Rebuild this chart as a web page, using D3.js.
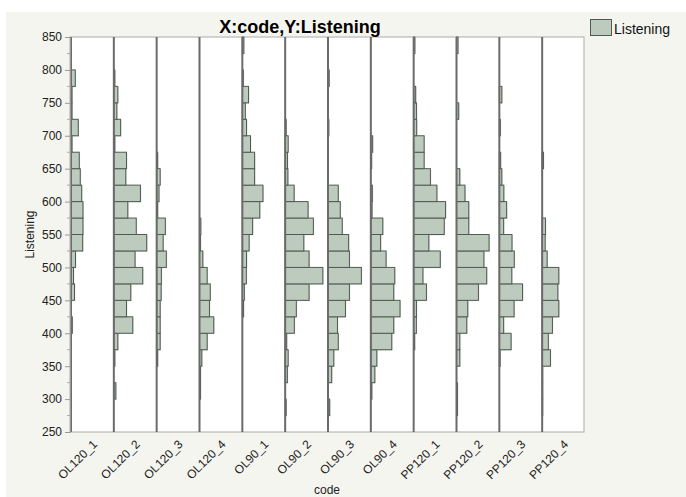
<!DOCTYPE html>
<html>
<head>
<meta charset="utf-8">
<script src="https://cdn.jsdelivr.net/npm/d3@7"></script>
<style>
  html, body { margin: 0; padding: 0; background: #ffffff; }
  svg { display: block; font-family: "Liberation Sans", Arial, Helvetica, sans-serif; }
</style>
</head>
<body>
<svg id="chart" width="686" height="497"></svg>
<script>
// Histogram bins of Listening scores (lower bound of each 25-point bin)
const bins = [250, 275, 300, 325, 350, 375, 400, 425, 450, 475, 500, 525,
              550, 575, 600, 625, 650, 675, 700, 725, 750, 775, 800, 825];
const binWidth = 25;

const codes = ["OL120_1", "OL120_2", "OL120_3", "OL120_4", "OL90_1", "OL90_2",
               "OL90_3", "OL90_4", "PP120_1", "PP120_2", "PP120_3", "PP120_4"];

// Relative frequency per bin for each code, in the same order as bins
const OL120_1 = [0, 0, 0, 0, 0, 0, 1.3, 0, 3.5, 2.5, 4.5, 11.7, 12, 12, 10.7, 9.3, 8.3, 1, 7.3, 1, 1, 4.3, 0, 0];
const OL120_2 = [0, 0, 2, 0, 1, 4, 19, 12.7, 17, 29, 21.3, 33, 22.5, 14, 26.7, 12, 12.7, 1, 6.8, 3, 4, 1, 0, 0];
const OL120_3 = [0, 0, 0, 0, 1, 3.5, 3.5, 3.5, 4.5, 4.7, 9.7, 6.5, 8.7, 1, 2.3, 3.5, 1, 0, 0, 0, 0, 0, 0, 0];
const OL120_4 = [0, 0, 1, 1, 2.3, 7.7, 14.3, 10, 10.8, 7.7, 3.3, 1, 1.3, 0, 0, 0, 0, 0, 0, 0, 0, 0, 0, 0];
const OL90_1  = [0, 0, 0, 0, 0, 0, 0, 1.2, 2, 4, 4.2, 6.8, 10.3, 17.5, 20.7, 12.3, 12.3, 8.2, 4.2, 3, 6.2, 1, 0, 1.5];
const OL90_2  = [0, 1, 0, 2.2, 3, 1.5, 9.2, 11.2, 24, 37.8, 24, 18.7, 28.3, 23, 9, 2.7, 2.3, 3, 1, 0, 0, 0, 0, 0];
const OL90_3  = [0, 1.7, 0, 3.7, 5.8, 10.3, 9.5, 17.5, 21.5, 33.5, 21.5, 20.7, 14.3, 12.3, 10.3, 0, 0, 0, 0.8, 0, 0, 1.2, 0, 0];
const OL90_4  = [0, 0, 1, 4, 6, 21, 23, 29.3, 23, 24, 15.3, 9.8, 12, 1.2, 1.5, 0, 0.8, 1.8, 0, 0, 0, 0, 0, 0];
const PP120_1 = [0, 0, 0, 0, 0, 1, 2.7, 2.8, 12.8, 9.3, 26.7, 15.2, 30.7, 32, 23.3, 16.8, 10.5, 10.5, 3, 2.8, 2, 0, 0, 1.2];
const PP120_2 = [0, 1, 1, 0, 3.3, 3.3, 10.3, 11.3, 22, 30.3, 27.5, 32.7, 12.3, 12.3, 8.5, 3.3, 0, 0, 0, 2.2, 0, 0, 0, 1.5];
const PP120_3 = [0, 0, 0, 0, 0.8, 11.8, 4.3, 14.8, 23.3, 12.5, 15, 12.7, 4.3, 7.3, 4.5, 2.5, 1.3, 0, 1, 0, 2.5, 0, 0, 0];
const PP120_4 = [0, 0.5, 0.5, 0.5, 8.3, 6.2, 10.3, 16.7, 15.7, 16.7, 5, 3, 3.3, 0, 0, 0, 1.3, 0, 0, 0, 0, 0, 0, 0];

const seriesByCode = { OL120_1, OL120_2, OL120_3, OL120_4, OL90_1, OL90_2,
                       OL90_3, OL90_4, PP120_1, PP120_2, PP120_3, PP120_4 };

const yTicks = [250, 300, 350, 400, 450, 500, 550, 600, 650, 700, 750, 800, 850];
const yMinorTicks = [275, 325, 375, 425, 475, 525, 575, 625, 675, 725, 775, 825];

const titleText = "X:code,Y:Listening";
const xTitle = "code";
const yTitle = "Listening";
const legendLabel = "Listening";

// ---------- layout ----------
const W = 686, H = 497;
const plot = { left: 70, right: 584, top: 37, bottom: 432 };
const barFill = "#bccbbd";
const barStroke = "#4f5b50";

const svg = d3.select("#chart");

// outer panel
svg.append("rect").attr("x", 6).attr("y", 12).attr("width", W - 6).attr("height", H - 12)
  .attr("fill", "#f5f5f0");

// plot background
svg.append("rect")
  .attr("x", plot.left).attr("y", plot.top)
  .attr("width", plot.right - plot.left).attr("height", plot.bottom - plot.top)
  .attr("fill", "#ffffff").attr("stroke", "#b8b8b8").attr("stroke-width", 1.2);

const y = d3.scaleLinear().domain([250, 850]).range([plot.bottom, plot.top]);
const x = d3.scaleBand().domain(codes).range([plot.left, plot.right]).padding(0);
const len = d3.scaleLinear().domain([0, 43]).range([0, x.bandwidth()]);

// histogram bars per code
const groups = svg.append("g").selectAll("g.code")
  .data(codes).join("g").attr("class", "code")
  .attr("transform", d => `translate(${x(d) + 1},0)`);

groups.each(function (code) {
  const g = d3.select(this);
  const rows = bins.map((b, i) => ({ lo: b, v: seriesByCode[code][i] })).filter(r => r.v > 0);
  // soft shadow to the right of each bar
  g.selectAll("rect.shadow").data(rows).join("rect").attr("class", "shadow")
    .attr("x", 0.8)
    .attr("y", r => y(r.lo + binWidth) + 0.8)
    .attr("width", r => len(r.v))
    .attr("height", r => y(r.lo) - y(r.lo + binWidth))
    .attr("fill", "#cfd2cf");
  g.selectAll("rect.bar").data(rows).join("rect").attr("class", "bar")
    .attr("x", 0)
    .attr("y", r => y(r.lo + binWidth))
    .attr("width", r => len(r.v))
    .attr("height", r => y(r.lo) - y(r.lo + binWidth))
    .attr("fill", barFill)
    .attr("stroke", barStroke).attr("stroke-width", 1);
  // category baseline
  g.append("line")
    .attr("x1", 0).attr("x2", 0)
    .attr("y1", plot.top).attr("y2", plot.bottom)
    .attr("stroke", "#6b6b6b").attr("stroke-width", 2);
});

// y axis
const yAxis = d3.axisLeft(y).tickValues(yTicks).tickSize(5).tickPadding(3);
const yg = svg.append("g").attr("transform", `translate(${plot.left},0)`).call(yAxis);
yg.select(".domain").attr("stroke", "#999999");
yg.selectAll(".tick line").attr("stroke", "#999999");
yg.selectAll(".tick text").attr("font-size", 12).attr("fill", "#222222")
  .attr("font-family", "Liberation Sans, Arial, sans-serif");
svg.append("g").selectAll("line").data(yMinorTicks).join("line")
  .attr("x1", plot.left - 3).attr("x2", plot.left)
  .attr("y1", d => y(d)).attr("y2", d => y(d))
  .attr("stroke", "#aaaaaa");

// x labels
svg.append("g").selectAll("text").data(codes).join("text")
  .attr("transform", d => `translate(${x(d) + x.bandwidth() / 2 + 6.5},${plot.bottom + 13}) rotate(-45)`)
  .attr("text-anchor", "end")
  .attr("font-size", 12).attr("fill", "#222222")
  .text(d => d);

// titles
svg.append("text").attr("x", 300).attr("y", 33).attr("text-anchor", "middle")
  .attr("font-size", 18).attr("font-weight", "bold").attr("fill", "#000000")
  .text(titleText);
svg.append("text").attr("x", (plot.left + plot.right) / 2).attr("y", 494)
  .attr("text-anchor", "middle").attr("font-size", 12).attr("fill", "#222222")
  .text(xTitle);
svg.append("text")
  .attr("transform", `translate(34,${(plot.top + plot.bottom) / 2}) rotate(-90)`)
  .attr("text-anchor", "middle").attr("font-size", 12).attr("fill", "#222222")
  .text(yTitle);

// legend
svg.append("rect").attr("x", 590.5).attr("y", 19.5).attr("width", 21).attr("height", 16)
  .attr("fill", barFill).attr("stroke", barStroke);
svg.append("text").attr("x", 614).attr("y", 34).attr("font-size", 14).attr("fill", "#111111")
  .text(legendLabel);
</script>
</body>
</html>
